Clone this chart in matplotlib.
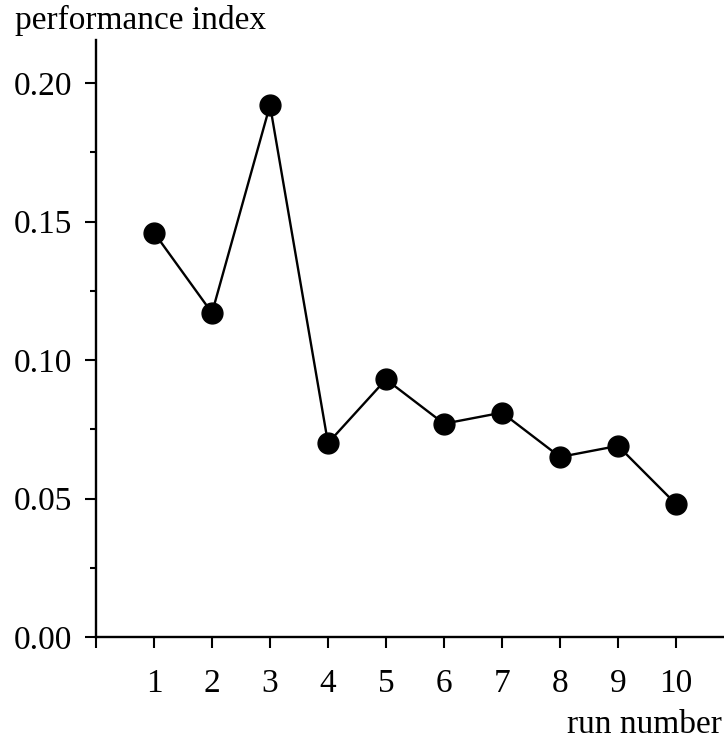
import matplotlib
matplotlib.use("Agg")
import matplotlib.pyplot as plt
from matplotlib.ticker import MultipleLocator

run_number = [1, 2, 3, 4, 5, 6, 7, 8, 9, 10]
performance_index = [0.146, 0.117, 0.192, 0.070, 0.093, 0.077, 0.081, 0.065, 0.069, 0.048]
y_ticks = [0.00, 0.05, 0.10, 0.15, 0.20]
y_tick_labels = ["0.00", "0.05", "0.10", "0.15", "0.20"]

plt.rcParams["font.family"] = ["Liberation Serif", "DejaVu Serif"]

W, H = 724, 739
fig = plt.figure(figsize=(W / 100, H / 100), dpi=100)
left, bottom, top = 96 / W, (H - 637) / H, 1 - 40 / H
ax = fig.add_axes([left, bottom, 1 - left, top - bottom])

ax.plot(run_number, performance_index, color="black", lw=1.7,
        marker="o", markersize=15, markerfacecolor="black",
        markeredgecolor="black", clip_on=False, zorder=3)

ax.set_xlim(0, (W - 96) / 58)
ax.set_ylim(0, (637 - 40) / 2770)

ax.spines["top"].set_visible(False)
ax.spines["right"].set_visible(False)
for s in ("left", "bottom"):
    ax.spines[s].set_linewidth(1.7)

ax.set_xticks([0] + run_number)
ax.set_xticklabels([""] + [str(r) for r in run_number])
ax.set_yticks(y_ticks)
ax.set_yticklabels(y_tick_labels)
ax.yaxis.set_minor_locator(MultipleLocator(0.025))

ax.tick_params(axis="both", which="major", direction="out", length=8,
               width=1.5, labelsize=24, colors="black")
ax.tick_params(axis="x", which="major", pad=15)
ax.tick_params(axis="y", which="major", pad=9)
ax.tick_params(axis="y", which="minor", direction="out", length=4, width=1.5)

fig.text(15 / W, 1 - 29 / H, "performance index", fontsize=24,
         ha="left", va="baseline")
fig.text(1 - 2 / W, 1 - 733 / H, "run number", fontsize=24,
         ha="right", va="baseline")

fig.savefig("out.png", dpi=100)
